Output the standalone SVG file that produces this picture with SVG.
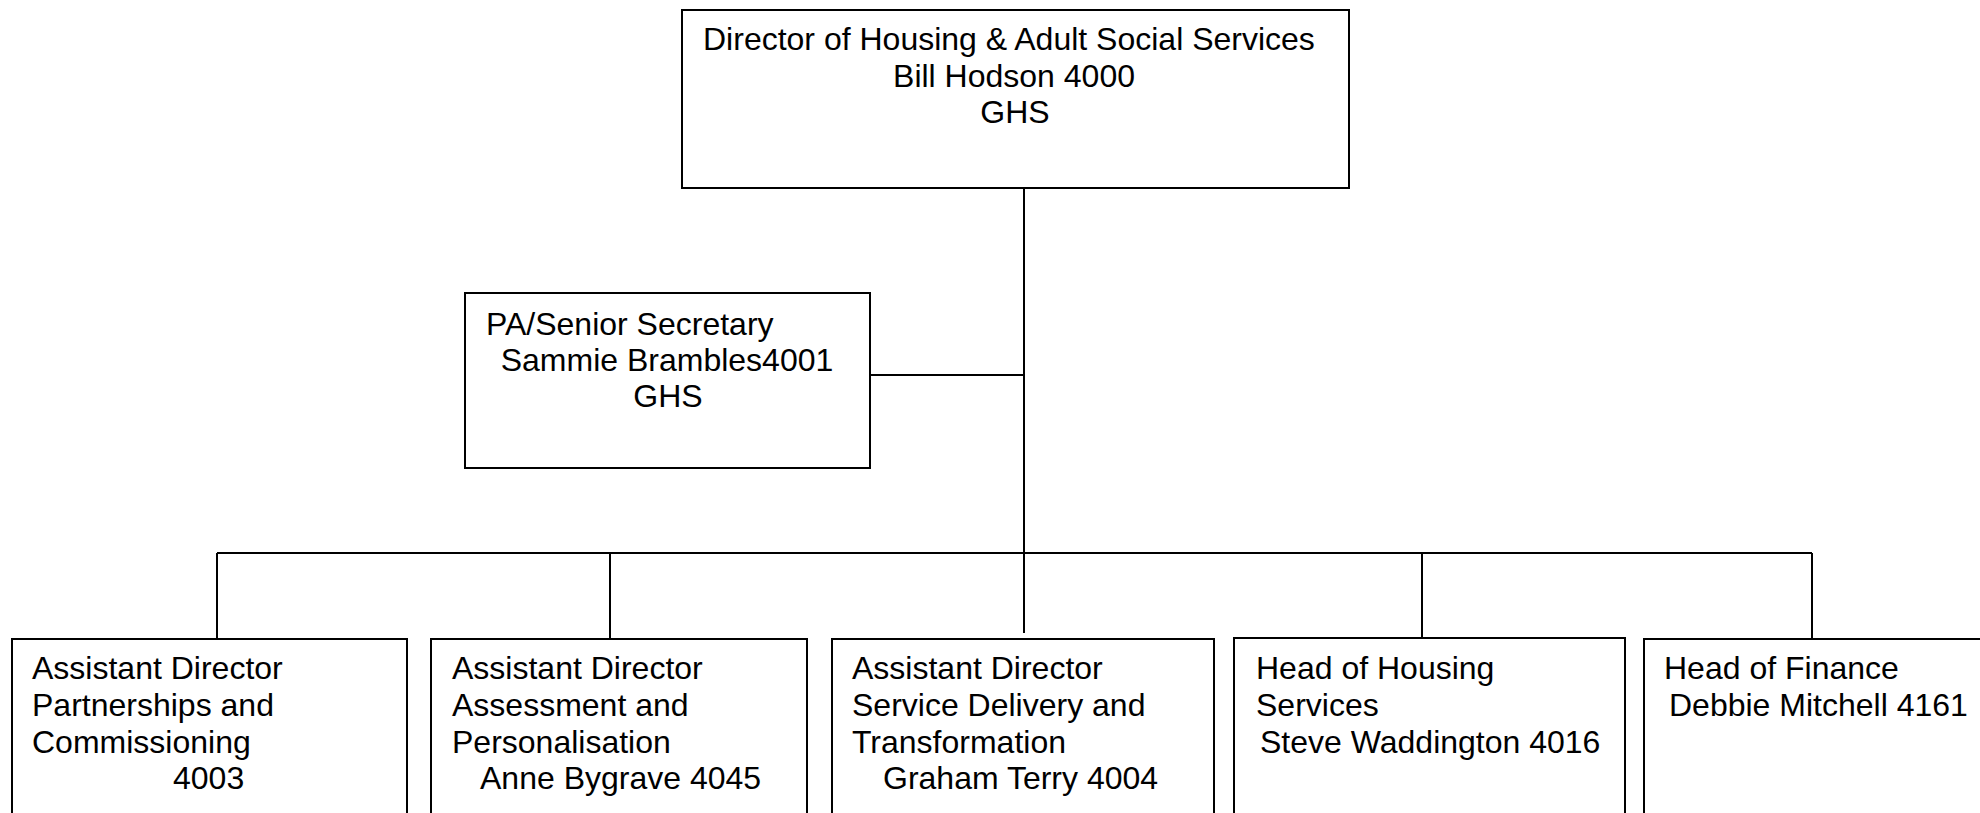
<svg xmlns="http://www.w3.org/2000/svg" width="1980" height="813" viewBox="0 0 1980 813">
  <style>
    .box { fill: #ffffff; stroke: #000000; stroke-width: 2; }
    .wire { fill: none; stroke: #000000; stroke-width: 2; }
    text { font-family: "Liberation Sans", Arial, sans-serif; font-size: 32px; fill: #000000; }
    .mid { text-anchor: middle; }
  </style>
  <rect x="0" y="0" width="1980" height="813" fill="#ffffff"/>

  <!-- reporting lines -->
  <g id="connectors">
    <line class="wire" x1="1024" y1="188" x2="1024" y2="553"/>
    <line class="wire" x1="870" y1="375" x2="1024" y2="375"/>
    <line class="wire" x1="217" y1="553" x2="1812" y2="553"/>
    <line class="wire" x1="217" y1="553" x2="217" y2="639"/>
    <line class="wire" x1="610" y1="553" x2="610" y2="639"/>
    <line class="wire" x1="1024" y1="553" x2="1024" y2="633"/>
    <line class="wire" x1="1422" y1="553" x2="1422" y2="638"/>
    <line class="wire" x1="1812" y1="553" x2="1812" y2="639"/>
  </g>

  <g id="director">
    <rect class="box" x="682" y="10" width="667" height="178"/>
    <text x="703" y="50">Director of Housing &amp; Adult Social Services</text>
    <text class="mid" x="1014" y="86.5">Bill Hodson 4000</text>
    <text class="mid" x="1015" y="123">GHS</text>
  </g>

  <g id="pa-secretary">
    <rect class="box" x="465" y="293" width="405" height="175"/>
    <text x="486" y="335">PA/Senior Secretary</text>
    <text class="mid" x="667" y="371">Sammie Brambles4001</text>
    <text class="mid" x="668" y="407">GHS</text>
  </g>

  <g id="ad-partnerships">
    <rect class="box" x="12" y="639" width="395" height="200"/>
    <text x="32" y="679">Assistant Director</text>
    <text x="32" y="716">Partnerships and</text>
    <text x="32" y="753">Commissioning</text>
    <text x="173" y="789">4003</text>
  </g>

  <g id="ad-assessment">
    <rect class="box" x="431" y="639" width="376" height="200"/>
    <text x="452" y="679">Assistant Director</text>
    <text x="452" y="716">Assessment and</text>
    <text x="452" y="753">Personalisation</text>
    <text x="480" y="789">Anne Bygrave 4045</text>
  </g>

  <g id="ad-service-delivery">
    <rect class="box" x="832" y="639" width="382" height="200"/>
    <text x="852" y="679">Assistant Director</text>
    <text x="852" y="716">Service Delivery and</text>
    <text x="852" y="753">Transformation</text>
    <text x="883" y="789">Graham Terry 4004</text>
  </g>

  <g id="head-housing">
    <rect class="box" x="1234" y="638" width="391" height="200"/>
    <text x="1256" y="679">Head of Housing</text>
    <text x="1256" y="716">Services</text>
    <text x="1260" y="753">Steve Waddington 4016</text>
  </g>

  <g id="head-finance">
    <rect class="box" x="1644" y="639" width="360" height="200"/>
    <text x="1664" y="679">Head of Finance</text>
    <text x="1669" y="716">Debbie Mitchell 4161</text>
  </g>
</svg>
